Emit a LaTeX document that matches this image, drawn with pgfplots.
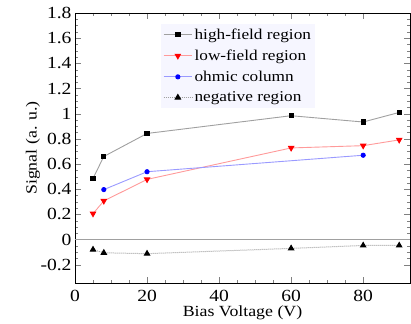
\documentclass[border=0pt]{standalone}
\usepackage{fontspec}
\setmainfont{Liberation Serif}[FakeStretch=1.15]
\usepackage{pgfplots}
\pgfplotsset{compat=1.18}
\definecolor{lred}{HTML}{FF9A9A}
\definecolor{lblue}{HTML}{9A9AFF}
\definecolor{lgray}{HTML}{A0A0A0}
\definecolor{legfill}{HTML}{F6F6FF}
\begin{document}
\begin{tikzpicture}
\begin{axis}[
  scale only axis,
  width=335pt, height=270pt,
  xmin=0, xmax=93, ymin=-0.345, ymax=1.8,
  xtick={0,20,40,60,80},
  ytick={-0.2,0,0.2,0.4,0.6,0.8,1,1.2,1.4,1.6,1.8},
  yticklabels={-0.2,0,0.2,0.4,0.6,0.8,1,1.2,1.4,1.6,1.8},
  minor x tick num=3,
  minor y tick num=3,
  tick align=inside,
  major tick length=6pt,
  minor tick length=3pt,
  axis line style={line width=0.8pt},
  /pgf/number format/assume math mode=true,
  tick label style={font=\fontsize{17}{20}\selectfont},
  xticklabel style={yshift=-4pt},
  label style={font=\fontsize{15.5}{18}\selectfont},
  xlabel={Bias Voltage (V)},
  ylabel={Signal (a. u.)},
  xlabel style={at={(axis description cs:0.5,0)}, anchor=center, yshift=-30pt},
  ylabel style={at={(axis description cs:0,0.5)}, anchor=center, rotate=0, yshift=42pt},
  legend style={at={(rel axis cs:0.255,0.959)}, anchor=north west,
    draw=none, fill=legfill, font=\fontsize{15}{17}\selectfont,
    row sep=5pt, inner sep=2.5pt},
  legend cell align=left,
  legend image code/.code={
    \draw[#1] (0cm,0cm) -- (1.0cm,0cm);
    \draw[#1, only marks] plot coordinates {(0.5cm,0cm)};
  },
]
\addplot[lgray, line width=0.9pt, mark=square*, mark size=2.1pt, mark options={black, solid}]
  coordinates {(5,0.486) (8,0.66) (20,0.843) (60,0.984) (80,0.934) (90,1.01)};
\addlegendentry{high-field region}
\addplot[lred, line width=0.9pt, mark=triangle*, mark size=3pt, mark options={red, solid, rotate=180}]
  coordinates {(5,0.206) (8,0.307) (20,0.478) (60,0.728) (80,0.746) (90,0.792)};
\addlegendentry{low-field region}
\addplot[lblue, line width=0.9pt, mark=*, mark size=2.1pt, mark options={blue, solid}]
  coordinates {(8,0.397) (20,0.539) (80,0.67)};
\addlegendentry{ohmic column}
\addplot[lgray, densely dotted, line width=1pt, mark=triangle*, mark size=3pt, mark options={black, solid}]
  coordinates {(5,-0.08) (8,-0.105) (20,-0.112) (60,-0.07) (80,-0.047) (90,-0.047)};
\addlegendentry{negative region}
\draw[lgray, line width=1.3pt] (axis cs:0,0) -- (axis cs:93,0);
\end{axis}
\pgfresetboundingbox
\path[use as bounding box] (-75pt,-40pt) rectangle (336pt,283pt);
\end{tikzpicture}
\end{document}
